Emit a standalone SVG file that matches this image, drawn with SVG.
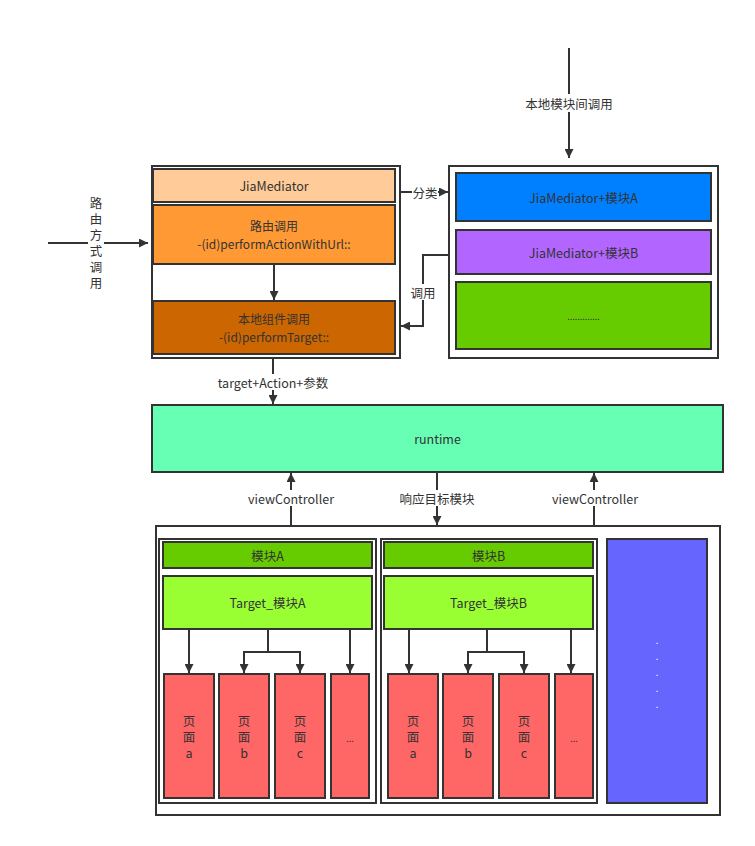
<svg xmlns="http://www.w3.org/2000/svg" width="755" height="846" viewBox="0 0 755 846">
<style>
text{font-family:"Noto Sans CJK SC","Noto Sans",sans-serif;font-size:12.5px;fill:#333;text-anchor:middle;dominant-baseline:central}
.two{font-size:12px}
.vt{writing-mode:vertical-rl;text-orientation:upright;letter-spacing:3.5px}
.box{stroke:#333;stroke-width:2}
.frame{fill:#fff;stroke:#333;stroke-width:2}
.ln{fill:none;stroke:#333;stroke-width:2}
.lbl{fill:#fff}
.page{fill:#FF6666;stroke:#333;stroke-width:2}
.dot{fill:#fff;font-size:9px}
</style>
<defs>
<marker id="arr" viewBox="0 0 10 10" refX="10" refY="5" markerWidth="10" markerHeight="9" markerUnits="userSpaceOnUse" orient="auto"><path d="M0,0 L10,5 L0,10 z" fill="#333"/></marker>
</defs>
<rect width="755" height="846" fill="#fff"/>

<g id="mediator-frame"><rect class="frame" x="152" y="166" width="248" height="192"/></g>
<g id="jiamediator"><rect class="box" x="153" y="169" width="242" height="33" fill="#FFCC99"/><text x="274" y="185.5">JiaMediator</text></g>
<g id="route-call"><rect class="box" x="153" y="205" width="242" height="59" fill="#FF9933"/><text class="two" x="274" y="225.6">路由调用</text><text class="two" x="274" y="243.4">-(id)performActionWithUrl::</text></g>
<g id="local-call"><rect class="box" x="153" y="301" width="242" height="53" fill="#CC6600"/><text class="two" x="274" y="318.6">本地组件调用</text><text class="two" x="274" y="336.4">-(id)performTarget::</text></g>

<g id="category-frame"><rect class="frame" x="449" y="166" width="269" height="192"/></g>
<g id="mediator-a"><rect class="box" x="456" y="173" width="255" height="48" fill="#007FFF"/><text x="583.5" y="197">JiaMediator+模块A</text></g>
<g id="mediator-b"><rect class="box" x="456" y="230" width="255" height="44" fill="#B266FF"/><text x="583.5" y="252">JiaMediator+模块B</text></g>
<g id="mediator-more"><rect class="box" x="456" y="282" width="255" height="67" fill="#66CC00"/><text x="583.5" y="316" style="font-size:9px">.............</text></g>

<g id="runtime"><rect class="box" x="152" y="405" width="571" height="67" fill="#66FFB3"/><text x="437.5" y="438.5">runtime</text></g>

<g id="modules-frame"><rect class="frame" x="156" y="526" width="564" height="289"/></g>
<g id="module-a">
<rect class="frame" x="159" y="539" width="217" height="264"/>
<rect class="box" x="163" y="542" width="209" height="26" fill="#66CC00"/><text x="267.5" y="555">模块A</text>
<rect class="box" x="163" y="576" width="209" height="53" fill="#99FF33"/><text x="267.5" y="602.5">Target_模块A</text>
</g>
<g id="page-a-a"><rect class="page" x="164" y="674" width="50" height="124"/><text class="vt" x="189" y="738.75">页面a</text></g>
<g id="page-a-b"><rect class="page" x="219" y="674" width="50" height="124"/><text class="vt" x="244" y="738.75">页面b</text></g>
<g id="page-a-c"><rect class="page" x="275" y="674" width="50" height="124"/><text class="vt" x="300" y="738.75">页面c</text></g>
<g id="page-a-more"><rect class="page" x="331" y="674" width="38" height="124"/><text x="350" y="738" style="font-size:9px">...</text></g>

<g id="module-b">
<rect class="frame" x="381" y="539" width="216" height="264"/>
<rect class="box" x="384" y="542" width="209" height="26" fill="#66CC00"/><text x="488.5" y="555">模块B</text>
<rect class="box" x="384" y="576" width="209" height="53" fill="#99FF33"/><text x="488.5" y="602.5">Target_模块B</text>
</g>
<g id="page-b-a"><rect class="page" x="388" y="674" width="50" height="124"/><text class="vt" x="413" y="738.75">页面a</text></g>
<g id="page-b-b"><rect class="page" x="443" y="674" width="50" height="124"/><text class="vt" x="468" y="738.75">页面b</text></g>
<g id="page-b-c"><rect class="page" x="499" y="674" width="50" height="124"/><text class="vt" x="524" y="738.75">页面c</text></g>
<g id="page-b-more"><rect class="page" x="555" y="674" width="38" height="124"/><text x="574" y="738" style="font-size:9px">...</text></g>

<g id="module-more"><rect class="box" x="607" y="539" width="100" height="264" fill="#6666FF"/>
<text class="dot" x="657" y="640">.</text><text class="dot" x="657" y="656">.</text><text class="dot" x="657" y="672">.</text><text class="dot" x="657" y="688">.</text><text class="dot" x="657" y="704">.</text></g>

<g id="connectors">
<path class="ln" d="M48,243 H148" marker-end="url(#arr)"/>
<rect class="lbl" x="88" y="195" width="16" height="98"/>
<text class="vt" x="96" y="244.75">路由方式调用</text>

<path class="ln" d="M274,264 V300" marker-end="url(#arr)"/>

<path class="ln" d="M569,48 V158" marker-end="url(#arr)"/>
<rect class="lbl" x="522" y="94" width="94" height="18"/>
<text x="569" y="103">本地模块间调用</text>

<path class="ln" d="M401,192 H448" marker-end="url(#arr)"/>
<rect class="lbl" x="412" y="184" width="26" height="16"/>
<text x="425" y="192">分类</text>

<path class="ln" d="M449,255 H423 V326 H401" marker-end="url(#arr)"/>
<rect class="lbl" x="410" y="284" width="26" height="16"/>
<text x="423" y="292">调用</text>

<path class="ln" d="M273,359 V404" marker-end="url(#arr)"/>
<rect class="lbl" x="206" y="374" width="134" height="16"/>
<text x="273" y="382">target+Action+参数</text>

<path class="ln" d="M291,526 V473" marker-end="url(#arr)"/>
<rect class="lbl" x="245" y="490" width="92" height="16"/>
<text x="291" y="498">viewController</text>

<path class="ln" d="M437,472 V525" marker-end="url(#arr)"/>
<rect class="lbl" x="395" y="490" width="84" height="16"/>
<text x="437" y="498">响应目标模块</text>

<path class="ln" d="M594,526 V473" marker-end="url(#arr)"/>
<rect class="lbl" x="549" y="490" width="92" height="16"/>
<text x="595" y="498">viewController</text>

<path class="ln" d="M189,629 V673" marker-end="url(#arr)"/>
<path class="ln" d="M268,629 V652 M244,652 H300"/>
<path class="ln" d="M244,651 V673" marker-end="url(#arr)"/>
<path class="ln" d="M300,651 V673" marker-end="url(#arr)"/>
<path class="ln" d="M350,629 V673" marker-end="url(#arr)"/>

<path class="ln" d="M409,629 V673" marker-end="url(#arr)"/>
<path class="ln" d="M487,629 V652 M468,652 H524"/>
<path class="ln" d="M468,651 V673" marker-end="url(#arr)"/>
<path class="ln" d="M524,651 V673" marker-end="url(#arr)"/>
<path class="ln" d="M571,629 V673" marker-end="url(#arr)"/>
</g>
</svg>
